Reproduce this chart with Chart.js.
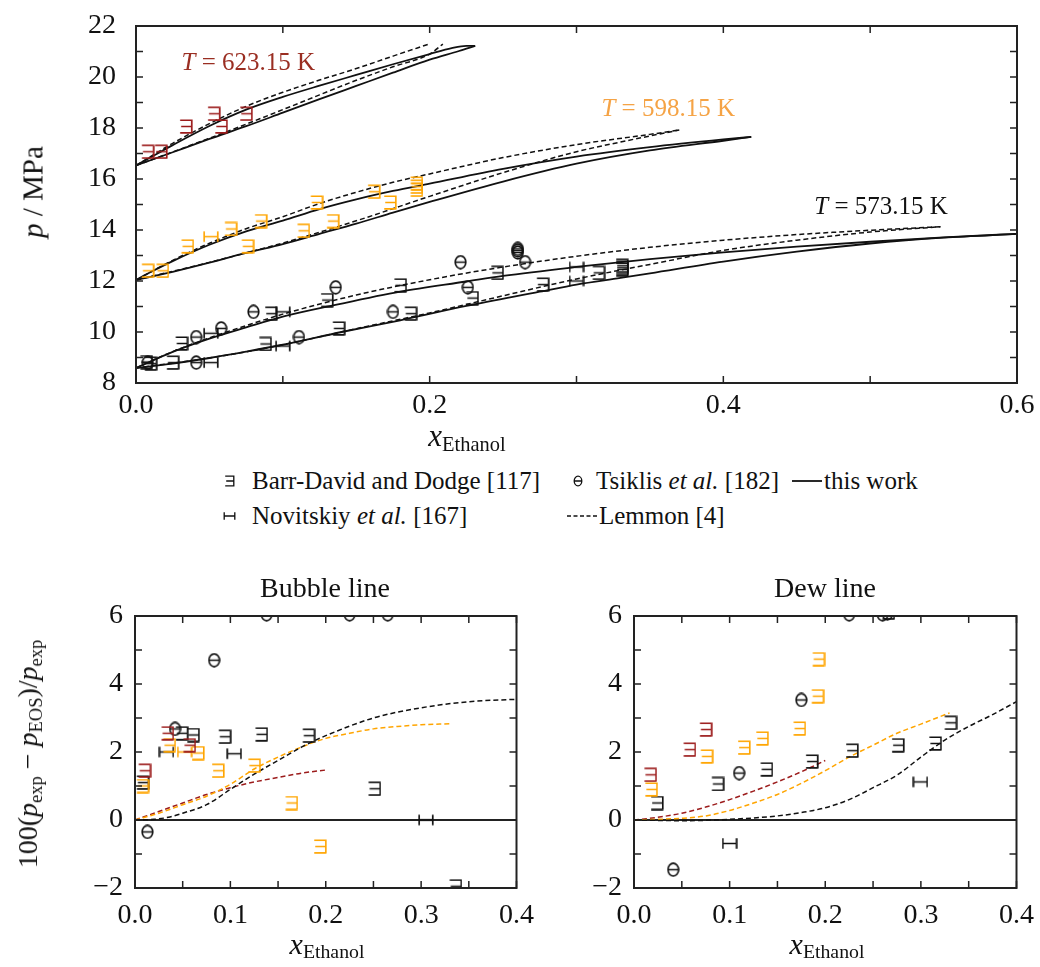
<!DOCTYPE html>
<html>
<head>
<meta charset="utf-8">
<script src="https://cdn.jsdelivr.net/npm/chart.js@4.4.1/dist/chart.umd.min.js"></script>
<style>
  body { margin: 0; background: #fff; }
  #wrap { position: relative; width: 1040px; height: 967px; overflow: hidden;
          font-family: "Liberation Serif", serif; color: #111; }
  canvas.plot { position: absolute; }
  .t { position: absolute; white-space: nowrap; line-height: 1; }
  .ctr { transform: translateX(-50%); }
  .rot { transform: translate(-50%, -50%) rotate(-90deg); }
  .sb { font-size: 0.66em; position: relative; top: 0.26em; }
  .sb2 { font-size: 0.66em; position: relative; top: 0.18em; }
  i { font-style: italic; }
</style>
</head>
<body>
<div id="wrap">
  <canvas id="cTop" class="plot" width="1040" height="440" style="left:0;top:0;width:1040px;height:440px"></canvas>
  <canvas id="cBub" class="plot" width="540" height="340" style="left:0;top:590px;width:540px;height:340px"></canvas>
  <canvas id="cDew" class="plot" width="500" height="340" style="left:540px;top:590px;width:500px;height:340px"></canvas>

  <!-- axis titles -->
  <div class="t rot" style="left:33px;top:192px;font-size:29px"><i>p</i> / MPa</div>
  <div class="t ctr" style="left:467px;top:420px;font-size:31px"><i>x</i><span class="sb">Ethanol</span></div>

  <!-- legend -->
  <div class="t" style="left:252px;top:468px;font-size:25px">Barr-David and Dodge [117]</div>
  <div class="t" style="left:596px;top:468px;font-size:25px">Tsiklis <i>et al.</i> [182]</div>
  <div class="t" style="left:824px;top:468px;font-size:25px">this work</div>
  <div class="t" style="left:252px;top:503px;font-size:25px">Novitskiy <i>et al.</i> [167]</div>
  <div class="t" style="left:599px;top:503px;font-size:25px">Lemmon [4]</div>

  <!-- deviation panels -->
  <div class="t ctr" style="left:325px;top:574px;font-size:28px">Bubble line</div>
  <div class="t ctr" style="left:825px;top:574px;font-size:28px">Dew line</div>
  <div class="t rot" style="left:28px;top:754px;font-size:28px">100(<i>p</i><span class="sb">exp</span> − <i>p</i><span class="sb">EOS</span>)/<i>p</i><span class="sb">exp</span></div>
  <div class="t ctr" style="left:327px;top:929px;font-size:30px"><i>x</i><span class="sb2">Ethanol</span></div>
  <div class="t ctr" style="left:827px;top:929px;font-size:30px"><i>x</i><span class="sb2">Ethanol</span></div>
</div>

<script>
// ---------- p–x phase envelopes, this work (solid) ----------
const bubble573 = [[0,8.59],[0.025,9.22],[0.05,9.74],[0.075,10.18],[0.1,10.6],[0.135,11.05],[0.18,11.58],[0.225,11.98],[0.25,12.2],[0.3,12.55],[0.35,12.86],[0.4,13.12],[0.45,13.35],[0.5,13.54],[0.55,13.71],[0.6,13.85]];
const dew573    = [[0,8.59],[0.025,8.76],[0.05,8.98],[0.075,9.23],[0.1,9.5],[0.14,10.0],[0.18,10.46],[0.225,11.02],[0.275,11.58],[0.3,11.86],[0.33,12.12],[0.35,12.3],[0.4,12.76],[0.45,13.15],[0.5,13.47],[0.55,13.7],[0.6,13.85]];
const bubble598 = [[0,12.04],[0.01,12.35],[0.025,12.78],[0.05,13.42],[0.075,13.95],[0.1,14.37],[0.125,14.82],[0.15,15.2],[0.175,15.53],[0.2,15.82],[0.25,16.4],[0.3,16.88],[0.35,17.25],[0.4,17.55],[0.419,17.65]];
const dew598    = [[0,12.04],[0.025,12.36],[0.05,12.72],[0.075,13.1],[0.1,13.45],[0.125,13.85],[0.15,14.25],[0.175,14.68],[0.2,15.1],[0.25,15.9],[0.3,16.6],[0.35,17.12],[0.4,17.5],[0.419,17.65]];
const bubble623 = [[0,16.53],[0.01,16.85],[0.025,17.33],[0.05,18.08],[0.075,18.72],[0.1,19.22],[0.125,19.66],[0.15,20.08],[0.175,20.5],[0.2,20.9],[0.215,21.13],[0.225,21.22],[0.231,21.22]];
const dew623    = [[0,16.53],[0.025,17.05],[0.05,17.57],[0.075,18.07],[0.1,18.6],[0.125,19.13],[0.15,19.65],[0.175,20.17],[0.2,20.68],[0.22,21.02],[0.231,21.22]];

// ---------- Lemmon [4] envelopes (dashed) ----------
const lemBubble573 = [[0,8.59],[0.025,9.23],[0.05,9.77],[0.075,10.25],[0.1,10.7],[0.15,11.45],[0.2,12.05],[0.25,12.55],[0.3,12.97],[0.35,13.32],[0.4,13.6],[0.45,13.82],[0.5,13.99],[0.548,14.13]];
const lemDew573    = [[0,8.59],[0.05,8.98],[0.1,9.5],[0.15,10.13],[0.2,10.75],[0.25,11.42],[0.3,12.08],[0.35,12.65],[0.4,13.2],[0.45,13.6],[0.5,13.92],[0.548,14.13]];
const lemBubble598 = [[0,12.04],[0.025,12.81],[0.05,13.48],[0.075,14.05],[0.1,14.52],[0.125,15.04],[0.15,15.48],[0.175,15.87],[0.2,16.2],[0.25,16.84],[0.3,17.35],[0.35,17.75],[0.37,17.92]];
const lemDew598    = [[0,12.04],[0.05,12.73],[0.1,13.49],[0.15,14.36],[0.2,15.32],[0.25,16.25],[0.3,17.07],[0.33,17.45],[0.37,17.92]];
const lemBubble623 = [[0,16.53],[0.025,17.4],[0.05,18.17],[0.075,18.85],[0.1,19.4],[0.125,19.88],[0.15,20.33],[0.175,20.82],[0.2,21.3]];
const lemDew623    = [[0,16.53],[0.025,17.06],[0.05,17.6],[0.075,18.15],[0.1,18.72],[0.125,19.3],[0.15,19.87],[0.175,20.4],[0.2,20.9],[0.209,21.29]];

// ---------- measured VLE points (x_Ethanol, p / MPa) ----------
const bd573  = [[0.007,8.82],[0.031,9.55],[0.092,10.72],[0.13,11.25],[0.18,11.83],[0.246,12.32],[0.331,12.6],[0.331,12.52],
                [0.01,8.76],[0.025,8.8],[0.088,9.53],[0.138,10.14],[0.187,10.72],[0.229,11.33],[0.277,11.86],[0.315,12.32],[0.331,12.45]];
const ts573  = [[0.008,8.8],[0.041,8.8],[0.041,9.8],[0.058,10.14],[0.08,10.79],[0.111,9.8],[0.136,11.75],[0.175,10.79],
                [0.221,12.74],[0.226,11.75],[0.26,13.12],[0.26,13.2],[0.26,13.26],[0.265,12.74]];
const nov573 = [[0.051,8.8],[0.051,9.95],[0.1,10.79],[0.1,9.45],[0.3,12.55],[0.3,12.0]];
const bd598  = [[0.008,12.4],[0.018,12.4],[0.035,13.36],[0.0645,14.04],[0.076,13.36],[0.085,14.35],[0.114,13.97],[0.123,15.08],
                [0.134,14.35],[0.162,15.5],[0.173,15.08],[0.191,15.58],[0.191,15.7],[0.191,15.82]];
const nov598 = [[0.051,13.74]];
const bd623  = [[0.008,17.07],[0.017,17.07],[0.034,18.06],[0.053,18.56],[0.058,18.06],[0.075,18.56]];

// ---------- relative deviations, bubble line ----------
const devBubBD573  = [[0.008,1.1],[0.049,2.55],[0.061,2.5],[0.094,2.45],[0.1325,2.52],[0.182,2.48],[0.251,0.92],[0.336,-1.95]];
const devBubBD598  = [[0.008,1.0],[0.036,2.2],[0.066,1.97],[0.087,1.45],[0.125,1.6],[0.164,0.5],[0.194,-0.78]];
const devBubNov598 = [[0.052,2.0]];
const devBubBD623  = [[0.01,1.45],[0.034,2.55],[0.057,2.2]];
const devBubTs573  = [[0.013,-0.35],[0.042,2.68],[0.083,4.7],[0.138,6.05],[0.225,6.05],[0.265,6.05]];
const devBubNov573 = [[0.033,2.0],[0.104,1.95],[0.305,0.0]];
const devBubLem573 = [[0,0],[0.02,0.02],[0.035,0.08],[0.05,0.2],[0.075,0.45],[0.1,0.9],[0.125,1.35],[0.15,1.75],[0.175,2.15],[0.2,2.48],[0.25,3.0],[0.3,3.3],[0.35,3.48],[0.4,3.55]];
const devBubLem598 = [[0,0],[0.025,0.2],[0.05,0.45],[0.075,0.7],[0.1,1.05],[0.125,1.5],[0.15,1.85],[0.175,2.15],[0.2,2.4],[0.225,2.55],[0.25,2.68],[0.275,2.75],[0.3,2.8],[0.33,2.83]];
const devBubLem623 = [[0,0],[0.025,0.25],[0.05,0.5],[0.075,0.75],[0.1,0.95],[0.125,1.12],[0.15,1.25],[0.175,1.38],[0.2,1.47]];

// ---------- relative deviations, dew line ----------
const devDewBD573  = [[0.024,0.5],[0.0875,1.06],[0.1385,1.49],[0.186,1.72],[0.228,2.04],[0.276,2.2],[0.315,2.25],[0.331,2.86],[0.266,6.1]];
const devDewBD598  = [[0.018,0.9],[0.076,1.87],[0.115,2.13],[0.134,2.4],[0.173,2.69],[0.192,3.64],[0.193,4.73]];
const devDewBD623  = [[0.017,1.33],[0.058,2.07],[0.075,2.66]];
const devDewTs573  = [[0.041,-1.46],[0.11,1.38],[0.175,3.53],[0.225,6.05],[0.26,6.05],[0.265,6.08]];
const devDewNov573 = [[0.051,-2.2],[0.1,-0.69],[0.2995,1.12]];
const devDewLem573 = [[0,0],[0.05,-0.02],[0.1,0.02],[0.15,0.12],[0.175,0.22],[0.2,0.36],[0.225,0.6],[0.25,0.95],[0.275,1.32],[0.3,1.85],[0.325,2.35],[0.35,2.75],[0.375,3.1],[0.4,3.48]];
const devDewLem598 = [[0,0],[0.025,0.02],[0.05,0.05],[0.075,0.12],[0.1,0.28],[0.125,0.5],[0.15,0.75],[0.175,1.08],[0.2,1.45],[0.225,1.85],[0.25,2.2],[0.275,2.55],[0.3,2.82],[0.33,3.15]];
const devDewLem623 = [[0,0],[0.025,0.08],[0.05,0.2],[0.075,0.38],[0.1,0.6],[0.125,0.85],[0.15,1.12],[0.175,1.42],[0.2,1.75]];

// ---------- isotherm labels ----------
const isoTemps = ['623.15', '598.15', '573.15'];

// ---------- styling ----------
const FAM = '"Liberation Serif", serif';
const RED = '#9c1c1c', ORANGE = '#ffa500', BLACK = '#111111';
Chart.defaults.font.family = FAM;

// marker glyphs: "E" = Barr-David (∃), "O" = Tsiklis (θ), "H" = Novitskiy
function marker(kind, color, k = 1) {
  const dims = { E: [12, 13], O: [11, 13], H: [14, 11] }[kind];
  const w = Math.round(dims[0] * k) + 2, h = Math.round(dims[1] * k) + 2;
  const c = document.createElement('canvas');
  c.width = w; c.height = h;
  const g = c.getContext('2d');
  g.strokeStyle = color; g.lineWidth = 1.65 * Math.max(k, 0.8);
  const x0 = 1.2, y0 = 1.2, x1 = w - 1.2, y1 = h - 1.2, ym = h / 2;
  g.beginPath();
  if (kind === 'E') {
    g.moveTo(x0, y0); g.lineTo(x1, y0);
    g.moveTo(x0 + 1, ym); g.lineTo(x1, ym);
    g.moveTo(x0, y1); g.lineTo(x1, y1);
    g.moveTo(x1, y0 - 0.7); g.lineTo(x1, y1 + 0.7);
  } else if (kind === 'O') {
    g.ellipse(w / 2, h / 2, (w - 2.4) / 2, (h - 2.4) / 2, 0, 0, Math.PI * 2);
    g.moveTo(x0, ym); g.lineTo(x1, ym);
  } else {
    g.moveTo(x0, y0); g.lineTo(x0, y1);
    g.moveTo(x1, y0); g.lineTo(x1, y1);
    g.moveTo(x0, ym); g.lineTo(x1, ym);
  }
  g.stroke();
  return c;
}

const pts = a => a.map(([x, y]) => ({ x, y }));
const pointSet = (a, kind, color) => ({
  data: pts(a), showLine: false, pointStyle: marker(kind, color),
  pointRadius: 7, order: 0
});
const lineSet = (a, color, dashed, width) => ({
  data: pts(a), showLine: true, pointRadius: 0, borderColor: color,
  borderWidth: width || (dashed ? 1.5 : 1.8), borderDash: dashed ? [5, 3] : [],
  cubicInterpolationMode: 'monotone', fill: false, order: 1
});

// box frame with inward ticks on all four sides
const framePlugin = {
  id: 'frame',
  afterDraw(chart) {
    const { ctx, chartArea: { left, right, top, bottom }, scales: { x, y } } = chart;
    const L = 7;
    ctx.save();
    ctx.strokeStyle = '#222';
    ctx.lineWidth = 1.5;
    ctx.beginPath();
    x.ticks.forEach(t => {
      const p = x.getPixelForValue(t.value);
      ctx.moveTo(p, bottom); ctx.lineTo(p, bottom - L);
      ctx.moveTo(p, top); ctx.lineTo(p, top + L);
    });
    y.ticks.forEach(t => {
      const p = y.getPixelForValue(t.value);
      ctx.moveTo(left, p); ctx.lineTo(left + L, p);
      ctx.moveTo(right, p); ctx.lineTo(right - L, p);
    });
    ctx.stroke();
    ctx.lineWidth = 2;
    ctx.strokeRect(left, top, right - left, bottom - top);
    ctx.restore();
  }
};

// "T = ... K" isotherm labels placed in data coordinates
const isoLabelPlugin = {
  id: 'isoLabels',
  afterDatasetsDraw(chart, args, opts) {
    const { ctx, scales: { x, y } } = chart;
    ctx.save();
    ctx.textBaseline = 'alphabetic';
    (opts.items || []).forEach(it => {
      const px = x.getPixelForValue(it.x), py = y.getPixelForValue(it.y);
      ctx.fillStyle = it.color;
      ctx.font = 'italic 25px ' + FAM;
      ctx.fillText('T', px, py);
      const w = ctx.measureText('T').width;
      ctx.font = '25px ' + FAM;
      ctx.fillText(' = ' + it.text + ' K', px + w, py);
    });
    ctx.restore();
  }
};

const tickFont = { family: FAM, size: 28, lineHeight: 1 };
const noGrid = { display: false };

function baseOptions(extraPlugins) {
  return {
    responsive: false, animation: false, devicePixelRatio: 1,
    events: [],
    plugins: Object.assign({ legend: { display: false }, tooltip: { enabled: false } }, extraPlugins || {}),
  };
}

// ---------- p–x diagram ----------
const topOpts = baseOptions({
  isoLabels: { items: [
    { text: isoTemps[0], x: 0.031, y: 20.28, color: '#9a2e22' },
    { text: isoTemps[1], x: 0.317, y: 18.48, color: '#f5a345' },
    { text: isoTemps[2], x: 0.462, y: 14.62, color: '#111' }
  ] }
});
topOpts.layout = { padding: { left: 0, right: 23, top: 17, bottom: 0 } };
topOpts.scales = {
  x: {
    type: 'linear', min: 0, max: 0.6,
    afterFit: s => { s.height = 57; },
    ticks: { stepSize: 0.1, autoSkip: false, maxRotation: 0, padding: 1, font: tickFont, color: '#111',
             callback: v => (Math.round(v * 10) % 2 === 0 ? v.toFixed(1) : '') },
    grid: noGrid, border: { display: false }
  },
  y: {
    type: 'linear', min: 8, max: 22,
    afterFit: s => { s.width = 136; },
    ticks: { stepSize: 1, autoSkip: false, padding: 12, font: tickFont, color: '#111',
             callback: v => (Math.round(v) % 2 === 0 ? String(Math.round(v)) : '') },
    grid: noGrid, border: { display: false }
  }
};

new Chart(document.getElementById('cTop'), {
  type: 'scatter',
  data: { datasets: [
    pointSet(bd623, 'E', RED),
    pointSet(bd598, 'E', ORANGE),
    pointSet(nov598, 'H', ORANGE),
    pointSet(bd573, 'E', BLACK),
    pointSet(ts573, 'O', BLACK),
    pointSet(nov573, 'H', BLACK),
    lineSet(bubble573, BLACK, false), lineSet(dew573, BLACK, false),
    lineSet(bubble598, BLACK, false), lineSet(dew598, BLACK, false),
    lineSet(bubble623, BLACK, false), lineSet(dew623, BLACK, false),
    lineSet(lemBubble573, BLACK, true), lineSet(lemDew573, BLACK, true),
    lineSet(lemBubble598, BLACK, true), lineSet(lemDew598, BLACK, true),
    lineSet(lemBubble623, BLACK, true), lineSet(lemDew623, BLACK, true)
  ] },
  options: topOpts,
  plugins: [framePlugin, isoLabelPlugin]
});

// ---------- deviation panels ----------
function devOptions(yWidth, padRight) {
  const o = baseOptions();
  o.layout = { padding: { left: 0, right: padRight, top: 22, bottom: 0 } };
  o.scales = {
    x: {
      type: 'linear', min: 0, max: 0.4,
      afterFit: s => { s.height = 42; },
      ticks: { stepSize: 0.05, autoSkip: false, maxRotation: 0, padding: 6, font: tickFont, color: '#111',
               callback: v => (Math.round(v * 100) % 10 === 0 ? v.toFixed(1) : '') },
      grid: noGrid, border: { display: false }
    },
    y: {
      type: 'linear', min: -2, max: 6,
      afterFit: s => { s.width = yWidth; },
      ticks: { stepSize: 1, autoSkip: false, padding: 12, font: tickFont, color: '#111',
               callback: v => {
                 const r = Math.round(v);
                 if (r % 2 !== 0) return '';
                 return r < 0 ? '\u2212' + (-r) : String(r);
               } },
      grid: {
        drawTicks: false,
        color: c => (c.tick && Math.round(c.tick.value) === 0 ? '#222' : 'rgba(0,0,0,0)'),
        lineWidth: c => (c.tick && Math.round(c.tick.value) === 0 ? 2 : 0)
      },
      border: { display: false }
    }
  };
  return o;
}

new Chart(document.getElementById('cBub'), {
  type: 'scatter',
  data: { datasets: [
    pointSet(devBubBD623, 'E', RED),
    pointSet(devBubBD598, 'E', ORANGE),
    pointSet(devBubNov598, 'H', ORANGE),
    pointSet(devBubBD573, 'E', BLACK),
    pointSet(devBubTs573, 'O', BLACK),
    pointSet(devBubNov573, 'H', BLACK),
    lineSet(devBubLem573, BLACK, true),
    lineSet(devBubLem598, ORANGE, true),
    lineSet(devBubLem623, RED, true)
  ] },
  options: devOptions(135, 23),
  plugins: [framePlugin]
});

new Chart(document.getElementById('cDew'), {
  type: 'scatter',
  data: { datasets: [
    pointSet(devDewBD623, 'E', RED),
    pointSet(devDewBD598, 'E', ORANGE),
    pointSet(devDewBD573, 'E', BLACK),
    pointSet(devDewTs573, 'O', BLACK),
    pointSet(devDewNov573, 'H', BLACK),
    lineSet(devDewLem573, BLACK, true),
    lineSet(devDewLem598, ORANGE, true),
    lineSet(devDewLem623, RED, true)
  ] },
  options: devOptions(94, 22),
  plugins: [framePlugin]
});

// ---------- legend symbols ----------
const wrap = document.getElementById('wrap');
function place(el, cx, cy) {
  el.style.position = 'absolute';
  el.style.left = Math.round(cx - el.width / 2) + 'px';
  el.style.top = Math.round(cy - el.height / 2) + 'px';
  wrap.appendChild(el);
}
place(marker('E', BLACK, 0.75), 229, 481);
place(marker('O', BLACK, 0.75), 578, 481);
place(marker('H', BLACK, 0.75), 229, 516);
function sample(dashed) {
  const c = document.createElement('canvas');
  c.width = 30; c.height = 4;
  const g = c.getContext('2d');
  g.strokeStyle = BLACK; g.lineWidth = dashed ? 1.4 : 1.8;
  if (dashed) g.setLineDash([4, 2.5]);
  g.beginPath(); g.moveTo(0, 2); g.lineTo(30, 2); g.stroke();
  return c;
}
place(sample(false), 807, 481);
place(sample(true), 582, 516);
</script>
</body>
</html>
